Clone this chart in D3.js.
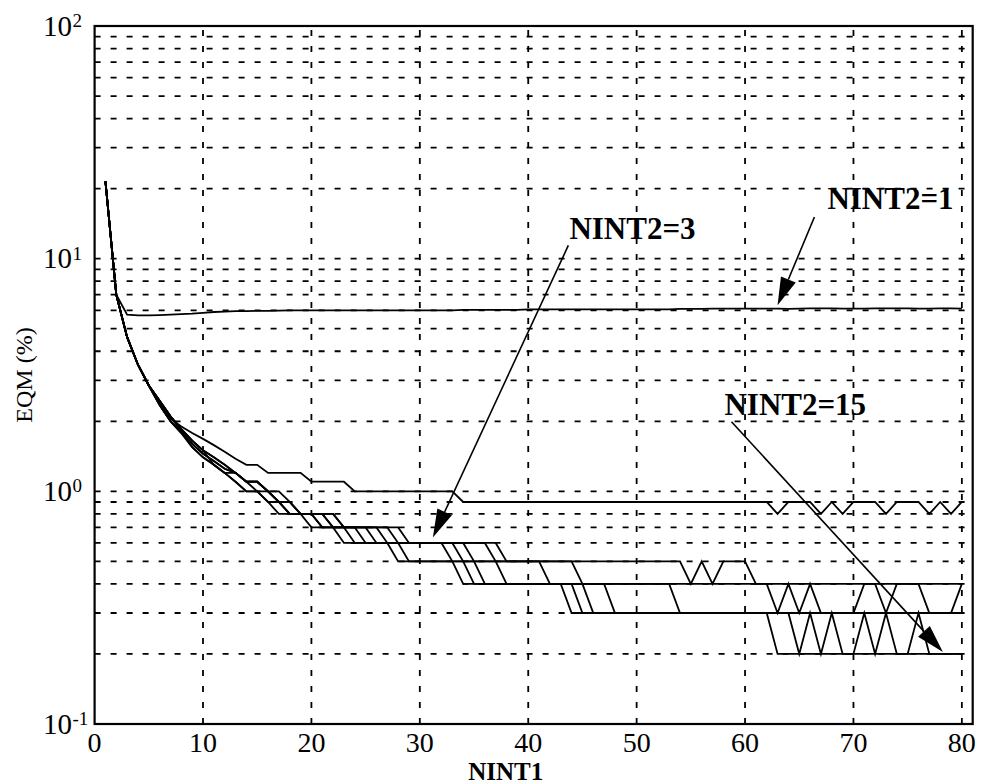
<!DOCTYPE html>
<html><head><meta charset="utf-8">
<script src="https://cdn.jsdelivr.net/npm/d3@7"></script>
<style>body{margin:0;background:#fff}svg{display:block}</style>
</head><body>
<svg id="chart" width="983" height="784"></svg>
<script>
// ---------------- data ----------------
const nint1 = [1,2,3,4,5,6,7,8,9,10,11,12,13,14,15,16,17,18,19,20,21,22,23,24,25,26,27,28,29,30,31,32,33,34,35,36,37,38,39,40,41,42,43,44,45,46,47,48,49,50,51,52,53,54,55,56,57,58,59,60,61,62,63,64,65,66,67,68,69,70,71,72,73,74,75,76,77,78,79,80];

const eqmNint2_1 = [21.5,7.0,5.75,5.7,5.7,5.72,5.75,5.78,5.8,5.85,
  5.9,5.92,5.95,5.95,5.97,5.97,5.98,6.0,6.0,6.0,
  6.0,6.0,6.0,6.0,6.0,6.0,6.0,6.0,6.0,6.0,
  6.0,6.0,6.0,6.02,6.02,6.02,6.03,6.03,6.03,6.05,
  6.05,6.05,6.05,6.05,6.05,6.05,6.05,6.05,6.05,6.05,
  6.05,6.05,6.05,6.08,6.08,6.08,6.1,6.1,6.1,6.1,
  6.1,6.1,6.1,6.08,6.1,6.12,6.12,6.12,6.1,6.1,
  6.1,6.12,6.12,6.12,6.12,6.1,6.1,6.12,6.12,6.1];

const eqmNint2_3 = [21.5,7.0,4.6,3.5,2.85,2.4,2.05,1.9,1.78,1.68,
  1.58,1.48,1.38,1.3,1.3,1.2,1.2,1.2,1.2,1.1,
  1.1,1.1,1.1,1.0,1.0,1.0,1.0,1.0,1.0,1.0,
  1.0,1.0,1.0,0.9,0.9,0.9,0.9,0.9,0.9,0.9,
  0.9,0.9,0.9,0.9,0.9,0.9,0.9,0.9,0.9,0.9,
  0.9,0.9,0.9,0.9,0.9,0.9,0.9,0.9,0.9,0.9,
  0.9,0.9,0.8,0.9,0.9,0.9,0.8,0.9,0.8,0.9,
  0.9,0.9,0.8,0.9,0.9,0.9,0.8,0.9,0.8,0.9];

const eqmNint2_5 = [21.5,7.0,4.6,3.5,2.85,2.45,2.1,1.85,1.65,1.5,
  1.3,1.2,1.2,1.1,1.1,1.0,0.9,0.9,0.8,0.8,
  0.8,0.8,0.7,0.7,0.7,0.7,0.7,0.7,0.6,0.6,
  0.6,0.6,0.6,0.6,0.6,0.6,0.6,0.5,0.5,0.5,
  0.5,0.5,0.5,0.5,0.5,0.5,0.5,0.5,0.5,0.5,
  0.5,0.5,0.5,0.5,0.4,0.5,0.4,0.5,0.5,0.5,
  0.4,0.4,0.4,0.4,0.4,0.4,0.4,0.4,0.4,0.4,
  0.4,0.4,0.4,0.4,0.4,0.4,0.4,0.4,0.4,0.4];

const eqmNint2_7 = [21.5,7.0,4.6,3.5,2.85,2.45,2.1,1.85,1.65,1.5,
  1.4,1.3,1.2,1.1,1.1,1.0,1.0,0.9,0.8,0.8,
  0.8,0.8,0.7,0.7,0.7,0.7,0.7,0.6,0.6,0.6,
  0.6,0.6,0.6,0.6,0.6,0.6,0.5,0.5,0.5,0.5,
  0.5,0.5,0.5,0.5,0.4,0.4,0.4,0.4,0.4,0.4,
  0.4,0.4,0.4,0.4,0.4,0.4,0.4,0.4,0.4,0.4,
  0.4,0.4,0.3,0.4,0.3,0.4,0.3,0.3,0.3,0.3,
  0.4,0.4,0.3,0.4,0.4,0.4,0.3,0.3,0.3,0.4];

const eqmNint2_9 = [21.5,7.0,4.6,3.5,2.85,2.45,2.1,1.85,1.65,1.5,
  1.4,1.3,1.2,1.1,1.1,1.0,0.9,0.9,0.8,0.8,
  0.8,0.7,0.7,0.7,0.7,0.7,0.6,0.6,0.6,0.6,
  0.6,0.6,0.6,0.6,0.5,0.4,0.4,0.4,0.4,0.4,
  0.4,0.4,0.4,0.4,0.4,0.3,0.3,0.3,0.3,0.3,
  0.3,0.3,0.3,0.3,0.3,0.3,0.3,0.3,0.3,0.3,
  0.3,0.3,0.3,0.3,0.3,0.3,0.3,0.3,0.3,0.3,
  0.3,0.3,0.3,0.3,0.3,0.3,0.3,0.3,0.3,0.3];

const eqmNint2_11 = [21.5,7.0,4.6,3.5,2.85,2.45,2.1,1.8,1.6,1.45,
  1.35,1.25,1.2,1.1,1.1,1.0,0.9,0.8,0.8,0.8,
  0.8,0.7,0.7,0.7,0.7,0.6,0.6,0.6,0.6,0.6,
  0.6,0.6,0.6,0.5,0.4,0.4,0.4,0.4,0.4,0.4,
  0.4,0.4,0.4,0.4,0.3,0.3,0.3,0.3,0.3,0.3,
  0.3,0.3,0.3,0.3,0.3,0.3,0.3,0.3,0.3,0.3,
  0.3,0.3,0.3,0.3,0.2,0.3,0.2,0.3,0.2,0.2,
  0.3,0.2,0.3,0.2,0.2,0.3,0.2,0.2,0.2,0.2];

const eqmNint2_13 = [21.5,7.0,4.6,3.5,2.85,2.35,2.0,1.8,1.6,1.45,
  1.35,1.25,1.2,1.1,1.0,1.0,0.9,0.8,0.8,0.8,
  0.7,0.7,0.7,0.7,0.6,0.6,0.6,0.6,0.6,0.6,
  0.6,0.6,0.5,0.4,0.4,0.4,0.4,0.4,0.4,0.4,
  0.4,0.4,0.4,0.3,0.3,0.3,0.3,0.3,0.3,0.3,
  0.3,0.3,0.3,0.3,0.3,0.3,0.3,0.3,0.3,0.3,
  0.3,0.3,0.2,0.2,0.2,0.2,0.2,0.2,0.2,0.2,
  0.2,0.2,0.2,0.2,0.2,0.2,0.2,0.2,0.2,0.2];

const eqmNint2_14 = [21.5,7.0,4.6,3.5,2.85,2.35,2.0,1.78,1.55,1.4,
  1.3,1.2,1.1,1.0,1.0,0.9,0.9,0.8,0.8,0.8,
  0.7,0.7,0.7,0.6,0.6,0.6,0.6,0.6,0.5,0.5,
  0.5,0.5,0.5,0.5,0.5,0.5,0.5,0.5,0.5,0.5,
  0.5,0.4,0.4,0.4,0.4,0.4,0.4,0.4,0.4,0.4,
  0.4,0.4,0.4,0.3,0.3,0.3,0.3,0.3,0.3,0.3,
  0.3,0.3,0.3,0.3,0.3,0.3,0.3,0.3,0.3,0.3,
  0.3,0.3,0.3,0.3,0.3,0.3,0.3,0.3,0.3,0.3];

const eqmNint2_15 = [21.5,7.0,4.6,3.5,2.85,2.35,2.0,1.78,1.55,1.4,
  1.3,1.2,1.1,1.0,1.0,0.9,0.8,0.8,0.8,0.7,
  0.7,0.7,0.6,0.6,0.6,0.6,0.6,0.5,0.5,0.5,
  0.5,0.5,0.5,0.5,0.5,0.5,0.5,0.4,0.4,0.4,
  0.4,0.4,0.4,0.4,0.4,0.4,0.4,0.3,0.3,0.3,
  0.3,0.3,0.3,0.3,0.3,0.3,0.3,0.3,0.3,0.3,
  0.3,0.3,0.3,0.3,0.3,0.3,0.3,0.3,0.3,0.3,
  0.3,0.3,0.3,0.3,0.3,0.3,0.3,0.3,0.3,0.3];

const seriesList = [eqmNint2_1, eqmNint2_3, eqmNint2_5, eqmNint2_7, eqmNint2_9,
  eqmNint2_11, eqmNint2_13, eqmNint2_14, eqmNint2_15];

const xTickValues = [0,10,20,30,40,50,60,70,80];
const yTickExponents = [-1,0,1,2];
const xDomain = [0, 81];
const yDomain = [0.1, 100];

// annotation labels (in data coordinates)
const annotationLabels = ["NINT2=1", "NINT2=3", "NINT2=15"];
const annotationText = [[67.6,16.3],[43.8,12.2],[58.1,2.12]];
const annotationFrom = [[66.4,15.1],[43.7,11.4],[58.75,1.99]];
const annotationTo = [[63.0,6.3],[31.2,0.634],[78.25,0.204]];

// ---------------- drawing ----------------
const svg = d3.select("#chart");
const L = 94.6, R = 972.7, T = 26, B = 724;
const x = d3.scaleLinear().domain(xDomain).range([L, R]);
const y = d3.scaleLog().domain(yDomain).range([B, T]);
const serif = "'Liberation Serif','Times New Roman',serif";

// grid
const grid = svg.append("g").attr("stroke","#000").attr("stroke-width",1.8)
  .attr("stroke-dasharray","6,10").attr("fill","none");
const yGridVals = [];
for (const e of [-1,0,1]) for (let m=1;m<=9;m++){ const v=m*Math.pow(10,e); if(v>0.1+1e-9) yGridVals.push(v);}
grid.selectAll("line.h").data(yGridVals).join("line").attr("class","h")
  .attr("x1",L).attr("x2",R).attr("y1",d=>y(d)).attr("y2",d=>y(d));
grid.selectAll("line.v").data(xTickValues.filter(d=>d>0)).join("line").attr("class","v")
  .attr("y1",B).attr("y2",T).attr("x1",d=>x(d)).attr("x2",d=>x(d));

// series
const line = d3.line().x((d,i)=>x(nint1[i])).y(d=>y(d));
svg.append("g").selectAll("path").data(seriesList).join("path")
  .attr("d", d=>line(d)).attr("fill","none").attr("stroke","#000")
  .attr("stroke-width",1.8).attr("stroke-linejoin","miter");

// frame
svg.append("rect").attr("x",L).attr("y",T).attr("width",R-L).attr("height",B-T)
  .attr("fill","none").attr("stroke","#000").attr("stroke-width",2.2);

// x axis labels
svg.append("g").selectAll("text").data(xTickValues).join("text")
  .attr("x",d=>x(d)).attr("y",752).attr("text-anchor","middle")
  .attr("font-family",serif).attr("font-size",28).text(d=>d);

// y axis labels
const yl = svg.append("g").attr("font-family",serif);
yTickExponents.forEach(e=>{
  const yy = y(Math.pow(10,e));
  yl.append("text").attr("x",72).attr("y",yy+9.5).attr("text-anchor","end")
    .attr("font-size",29).text("10");
  yl.append("text").attr("x",72.5).attr("y",yy+1).attr("font-size",19).text(String(e));
});

// axis titles
svg.append("text").attr("x",(L+R)/2 - 28).attr("y",780).attr("text-anchor","middle")
  .attr("font-family",serif).attr("font-size",25).attr("font-weight","bold").text("NINT1");
svg.append("text").attr("transform",`translate(32,375) rotate(-90)`).attr("text-anchor","middle")
  .attr("font-family",serif).attr("font-size",24).text("EQM (%)");

// annotations
const ann = svg.append("g");
annotationLabels.forEach((lab,i)=>{
  ann.append("text").attr("x",x(annotationText[i][0])).attr("y",y(annotationText[i][1]))
    .attr("font-family",serif).attr("font-size",31).attr("font-weight","bold")
    .text(lab);
  const x1=x(annotationFrom[i][0]), y1=y(annotationFrom[i][1]);
  const x2=x(annotationTo[i][0]), y2=y(annotationTo[i][1]);
  const dx=x2-x1, dy=y2-y1, len=Math.hypot(dx,dy), ux=dx/len, uy=dy/len;
  const hl=28, hw=8;
  const bx=x2-ux*hl, by=y2-uy*hl;
  ann.append("line").attr("x1",x1).attr("y1",y1).attr("x2",bx).attr("y2",by)
    .attr("stroke","#000").attr("stroke-width",1.6);
  ann.append("path").attr("d",`M${x2},${y2}L${bx-uy*hw},${by+ux*hw}L${bx+uy*hw},${by-ux*hw}Z`)
    .attr("fill","#000");
});
</script>
</body></html>
